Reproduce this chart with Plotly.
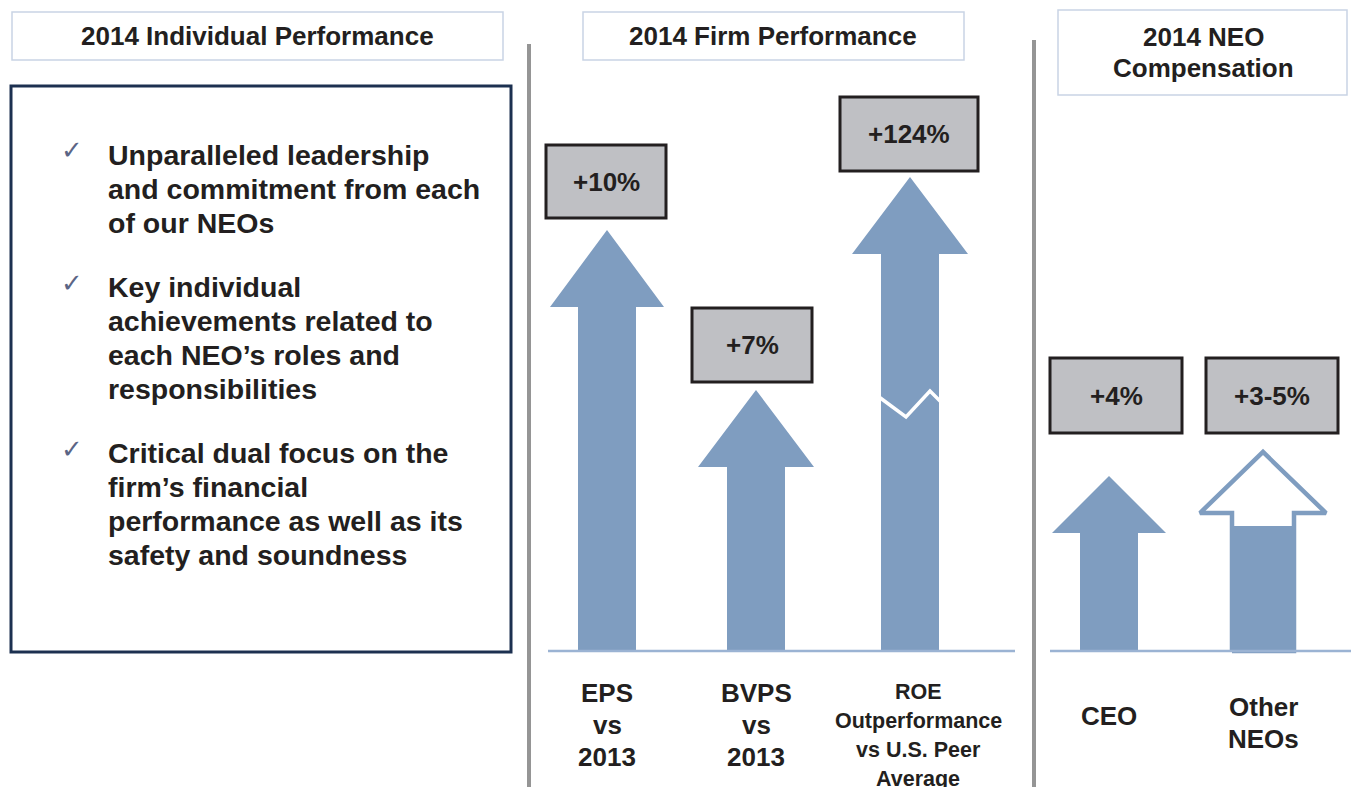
import plotly.graph_objects as go

# ---------------- data ----------------
metrics = ["EPS<br>vs<br>2013", "BVPS<br>vs<br>2013",
           "ROE<br>Outperformance<br>vs U.S. Peer<br>Average",
           "CEO", "Other<br>NEOs"]
value_labels = ["+10%", "+7%", "+124%", "+4%", "+3-5%"]
arrow_heights = [421, 261, 474, 175, 199]      # arrow tip height above baseline
filled_heights = [421, 261, 474, 175, 125]     # solid-filled part of each arrow
panel_titles = ["2014 Individual Performance", "2014 Firm Performance",
                "2014 NEO<br>Compensation"]
bullets = ["Unparalleled leadership<br>and commitment from each<br>of our NEOs",
           "Key individual<br>achievements related to<br>each NEO\u2019s roles and<br>responsibilities",
           "Critical dual focus on the<br>firm\u2019s financial<br>performance as well as its<br>safety and soundness"]

# ---------------- layout / style constants ----------------
W, H = 1359, 787
OFF = 8                          # page body margin
BASE = 651                       # baseline pixel row
def yv(px):                      # pixel row -> y value
    return BASE - px

FONT = "Liberation Sans, Arial, sans-serif"
TXT = "#231f20"
ARROW = "#7f9dc0"
BASELINE_C = "#9bb3d3"
BOX_FILL = "#bfc0c4"
BOX_LINE = "#231f20"
HDR_LINE = "#c9d4e5"
NAVY = "#1c3050"
SEP = "#959595"

centers = [607, 756, 910, 1109, 1263]
head_half = [57, 58, 58, 57, 63]
shaft_half = [29, 29, 29, 29, 31]
head_len = [77, 77, 77, 57, 61]
label_boxes = [(546, 666, 145, 218), (692, 812, 308, 382), (840, 978, 97, 171),
               (1050, 1182, 358, 433), (1206, 1338, 358, 433)]
cat_first_y = [693, 693, 692, 716, 707]
cat_step = [32, 32, 29, 32, 32]
cat_font = [26, 26, 21.5, 26, 26]
cat_dx = [0, 0, 8, 0, 0]

fig = go.Figure()

def arrow_pts(i, h):
    c, hh, sh, hl = centers[i], head_half[i], shaft_half[i], head_len[i]
    xs = [c - sh, c - sh, c - hh, c, c + hh, c + sh, c + sh, c - sh]
    ys = [0, h - hl, h - hl, h, h - hl, h - hl, 0, 0]
    return xs, ys

for i in range(len(metrics)):
    h = arrow_heights[i]
    xs, ys = arrow_pts(i, h)
    if filled_heights[i] >= h:
        fig.add_trace(go.Scatter(x=xs, y=ys, mode="lines", fill="toself",
                                 fillcolor=ARROW, line=dict(width=0, color=ARROW),
                                 hoverinfo="skip", showlegend=False))
    else:
        fig.add_trace(go.Scatter(x=xs, y=ys, mode="lines", fill="toself", fillcolor="white",
                                 line=dict(width=4.5, color=ARROW),
                                 hoverinfo="skip", showlegend=False))
        c, sh = centers[i], shaft_half[i] + 2
        f = filled_heights[i]
        fig.add_trace(go.Scatter(x=[c - sh, c - sh, c + sh, c + sh, c - sh],
                                 y=[0, f, f, 0, 0], mode="lines", fill="toself",
                                 fillcolor=ARROW, line=dict(width=0, color=ARROW),
                                 hoverinfo="skip", showlegend=False))

# break mark on the ROE arrow
fig.add_trace(go.Scatter(x=[879, 906, 930, 942], y=[yv(397), yv(417), yv(391), yv(403)],
                         mode="lines", line=dict(color="white", width=3.5),
                         hoverinfo="skip", showlegend=False))

shapes = []
shapes.append(dict(type="line", x0=548, x1=1015, y0=0, y1=0,
                   line=dict(color=BASELINE_C, width=2.5), layer="above"))
shapes.append(dict(type="line", x0=1050, x1=1359, y0=0, y1=0,
                   line=dict(color=BASELINE_C, width=2.5), layer="above"))
shapes.append(dict(type="line", x0=529, x1=529, y0=yv(44), y1=yv(787),
                   line=dict(color=SEP, width=4)))
shapes.append(dict(type="line", x0=1034, x1=1034, y0=yv(40), y1=yv(787),
                   line=dict(color=SEP, width=4)))
hdr_boxes = [(12, 503, 12, 60), (583, 964, 12, 60), (1058, 1347, 10, 95)]
for (x0, x1, y0, y1) in hdr_boxes:
    shapes.append(dict(type="rect", x0=x0, x1=x1, y0=yv(y0), y1=yv(y1),
                       line=dict(color=HDR_LINE, width=1.5), fillcolor="white"))
shapes.append(dict(type="rect", x0=11, x1=511, y0=yv(86), y1=yv(652),
                   line=dict(color=NAVY, width=3), fillcolor="white", layer="below"))
for (x0, x1, y0, y1) in label_boxes:
    shapes.append(dict(type="rect", x0=x0, x1=x1, y0=yv(y0), y1=yv(y1),
                       line=dict(color=BOX_LINE, width=3), fillcolor=BOX_FILL, layer="above"))

ann = []
def line_ann(x, y, t, size, xanchor="center", family=FONT, color=TXT, bold=True):
    ann.append(dict(x=x, y=yv(y), text=("<b>%s</b>" % t) if bold else t, showarrow=False,
                    font=dict(family=family, size=size, color=color),
                    xanchor=xanchor, yanchor="middle"))

hdr_pos = [(257, 36, 0), (773, 36, 0), (1203, 37, 31)]
for t, (cx, cy, step) in zip(panel_titles, hdr_pos):
    for k, ln in enumerate(t.split("<br>")):
        line_ann(cx, cy + k * step, ln, 26)

for i, t in enumerate(value_labels):
    x0, x1, y0, y1 = label_boxes[i]
    line_ann((x0 + x1) / 2, (y0 + y1) / 2, t, 26)

for i, t in enumerate(metrics):
    for k, ln in enumerate(t.split("<br>")):
        line_ann(centers[i] + cat_dx[i], cat_first_y[i] + k * cat_step[i], ln, cat_font[i])

bullet_first = [155, 287, 453]
check_y = [150, 283, 449]
for t, fy, cy in zip(bullets, bullet_first, check_y):
    for k, ln in enumerate(t.split("<br>")):
        line_ann(106, fy + k * 34, ln, 28.5, xanchor="left")
    line_ann(72, cy, "\u2713", 26, family="DejaVu Sans", color="#5b6585", bold=False)

fig.update_layout(
    width=W - OFF, height=H - OFF, margin=dict(l=0, r=0, t=0, b=0),
    paper_bgcolor="white", plot_bgcolor="white",
    xaxis=dict(range=[OFF, W], visible=False, fixedrange=True),
    yaxis=dict(range=[yv(H), yv(OFF)], visible=False, fixedrange=True),
    shapes=shapes, annotations=ann, showlegend=False,
)
fig.write_html("out.html")
